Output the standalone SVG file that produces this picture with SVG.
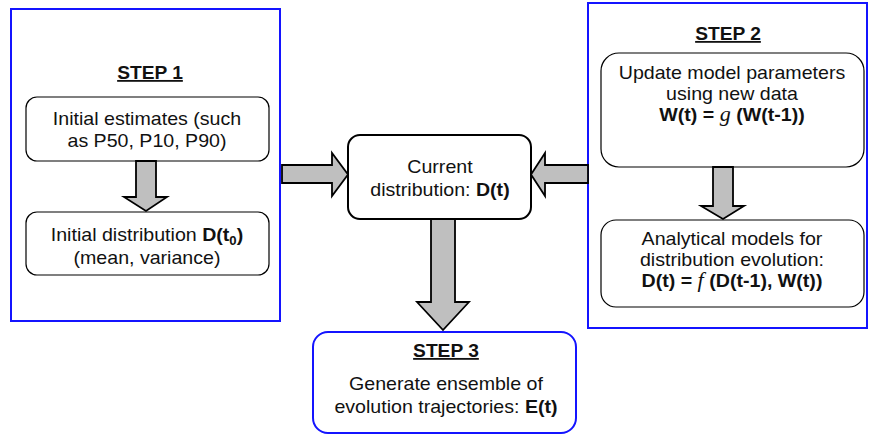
<svg xmlns="http://www.w3.org/2000/svg" width="869" height="435" viewBox="0 0 869 435">
<style>
.step{fill:#fff;stroke:#1414ff;stroke-width:2}
.box{fill:#fff;stroke:#000;stroke-width:1.2}
.cbox{fill:#fff;stroke:#000;stroke-width:2}
.arr{fill:#bfbfbf;stroke:#000;stroke-width:1.8;stroke-linejoin:miter}
text{font-family:"Liberation Sans",Arial,sans-serif;font-size:18.6px;fill:#111;text-anchor:middle;transform-box:fill-box;transform-origin:center;transform:scaleX(1.054)}
.t{font-weight:bold;text-decoration:underline;font-size:18.2px}
.b{font-weight:bold}
.i{font-family:"Liberation Serif","Times New Roman",serif;font-style:italic;font-weight:normal;font-size:21px}
</style>
<rect width="869" height="435" fill="#fff"/>
<g id="step1">
<rect class="step" x="11" y="9" width="269" height="312"/>
<text class="t" x="150" y="79">STEP 1</text>
</g>
<g id="initial-estimates">
<rect class="box" x="26" y="97" width="243" height="64" rx="11"/>
<text x="147" y="125">Initial estimates (such</text>
<text x="147" y="147">as P50, P10, P90)</text>
</g>
<g id="initial-distribution">
<rect class="box" x="26" y="212" width="243" height="63" rx="11"/>
<text x="147" y="241">Initial distribution <tspan class="b">D(t</tspan><tspan class="b" font-size="12.5" dy="4">0</tspan><tspan class="b" dy="-4">)</tspan></text>
<text x="147" y="264">(mean, variance)</text>
</g>
<g id="step2">
<rect class="step" x="588" y="3" width="279" height="325"/>
<text class="t" x="728" y="40">STEP 2</text>
</g>
<g id="update-params">
<rect class="box" x="601" y="53" width="263" height="114" rx="18"/>
<text x="732" y="79">Update model parameters</text>
<text x="732" y="100">using new data</text>
<text x="732" y="121"><tspan class="b">W(t) = </tspan><tspan class="i">g</tspan><tspan class="b"> (W(t-1))</tspan></text>
</g>
<g id="analytical-models">
<rect class="box" x="601" y="220" width="263" height="87" rx="15"/>
<text x="732" y="245">Analytical models for</text>
<text x="732" y="266">distribution evolution:</text>
<text x="732" y="287"><tspan class="b">D(t) = </tspan><tspan class="i">f </tspan><tspan class="b">(D(t-1), W(t))</tspan></text>
</g>
<g id="current-distribution">
<rect class="cbox" x="348" y="135" width="183" height="84" rx="12"/>
<text x="440" y="173">Current</text>
<text x="440" y="196">distribution: <tspan class="b">D(t)</tspan></text>
</g>
<g id="step3">
<rect class="step" x="313" y="332" width="263" height="101" rx="15"/>
<text class="t" x="446" y="357">STEP 3</text>
<text x="446" y="390">Generate ensemble of</text>
<text x="446" y="413">evolution trajectories: <tspan class="b">E(t)</tspan></text>
</g>
<g id="connectors">
<path class="arr" d="M136,161 H156 V197 H167 L146,211 L124,197 H136 Z"/>
<path class="arr" d="M713,167 H733 V206 H744 L723,219 L701,206 H713 Z"/>
<path class="arr" d="M282,165 H332 V153 L348,174.5 L332,196 V183 H282 Z"/>
<path class="arr" d="M588,165 H545 V153 L531,174.5 L545,196 V183 H588 Z"/>
<path class="arr" d="M431,219 H455 V302 H469 L443,330 L417,302 H431 Z"/>
</g>
</svg>
